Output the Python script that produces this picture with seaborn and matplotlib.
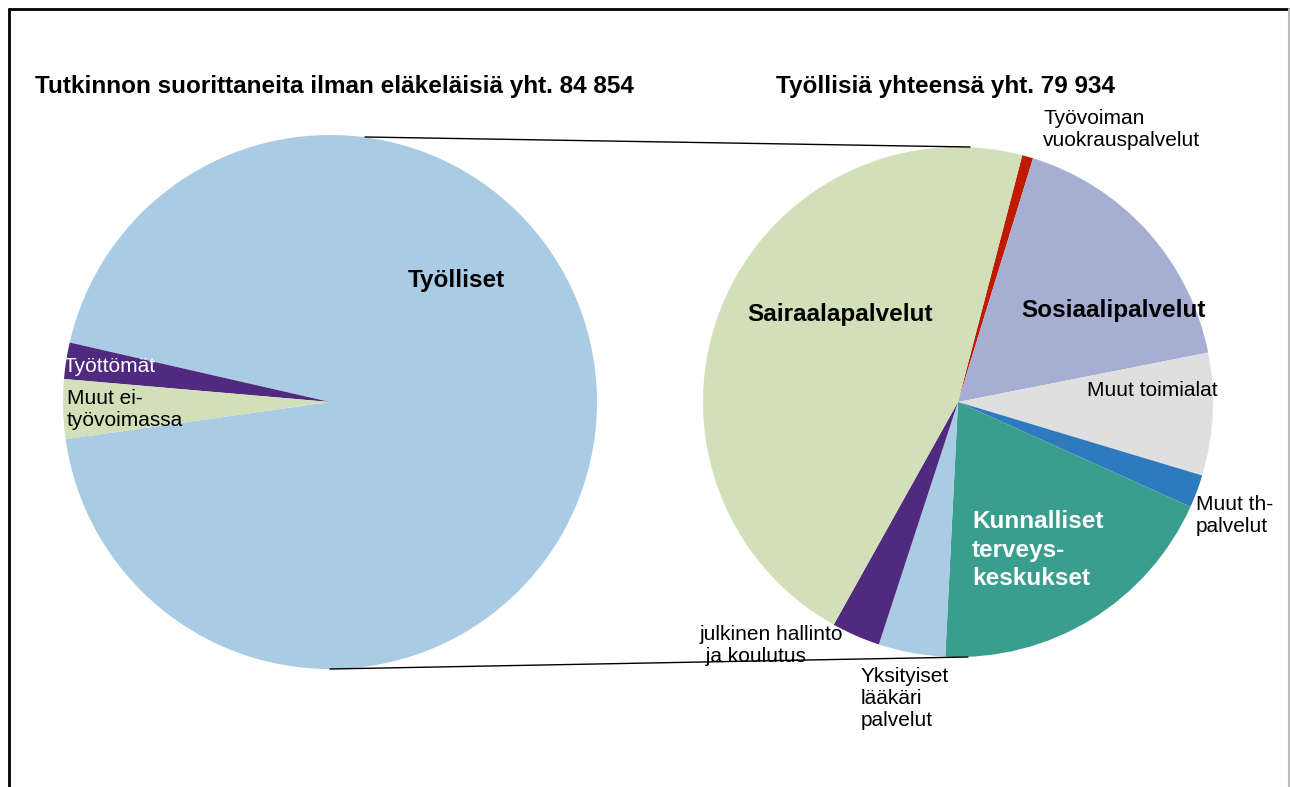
import seaborn as sns
import matplotlib.pyplot as plt

sns.set_theme(style="white")
plt.rcParams['font.family'] = ['Liberation Sans', 'DejaVu Sans']
plt.rcParams['text.color'] = 'black'

# left pie: all graduates (excluding pensioners)
left_labels = ["Työlliset", "Työttömät", "Muut ei-\ntyövoimassa"]
left_values = [79934, 1870, 3050]
left_colors = ["#A9CCE4", "#4F2A7F", "#D2E0B9"]

# right pie: employed by sector
right_labels = ["Työvoiman\nvuokrauspalvelut", "Sosiaalipalvelut", "Muut toimialat", "Muut th-\npalvelut",
                "Kunnalliset\nterveys-\nkeskukset", "Yksityiset\nlääkäri\npalvelut",
                "julkinen hallinto\n ja koulutus", "Sairaalapalvelut"]
right_values = [560, 13700, 6200, 1670, 15230, 3380, 2460, 36734]
right_colors = ["#C01B00", "#A7AED4", "#DFDFDF", "#2F7ABF", "#3A9E8E", "#A9CCE4", "#4F2A7F", "#D2E0B9"]

W, H = 1290, 787

def py(y):
    # pixel row -> data y
    return H - y

fig = plt.figure(figsize=(12.9, 7.87), dpi=100)
ax = fig.add_axes([0, 0, 1, 1])

ax.pie(left_values, colors=left_colors, center=(330, py(402)), radius=267,
       startangle=-172.0, counterclock=True, wedgeprops=dict(linewidth=0))
ax.pie(right_values, colors=right_colors, center=(958, py(402)), radius=255,
       startangle=75.4, counterclock=False, wedgeprops=dict(linewidth=0))

ax.set_xlim(0, W)
ax.set_ylim(0, H)
ax.set_aspect('equal')
ax.axis('off')

# connector lines
ax.plot([365, 970], [py(137), py(147)], color="black", lw=1, zorder=5)
ax.plot([330, 968], [py(669), py(657)], color="black", lw=1, zorder=5)

# titles
ax.text(35, py(87), "Tutkinnon suorittaneita ilman eläkeläisiä yht. 84 854", fontsize=17.5,
        fontweight="bold", ha="left", va="center")
ax.text(776, py(87), "Työllisiä yhteensä yht. 79 934", fontsize=17.5,
        fontweight="bold", ha="left", va="center")

fs = 15
bfs = 17.5
ls = 1.2
# left labels
ax.text(456, py(280), "Työlliset", fontsize=bfs, fontweight="bold", ha="center", va="center")
ax.text(64, py(366), left_labels[1], fontsize=fs, color="white", ha="left", va="center")
ax.text(67, py(409), left_labels[2], fontsize=fs, ha="left", va="center", linespacing=ls)

# right labels
ax.text(1043, py(130), right_labels[0], fontsize=fs, ha="left", va="center", linespacing=ls)
ax.text(1113, py(310), right_labels[1], fontsize=bfs, fontweight="bold", ha="center", va="center")
ax.text(1152, py(391), right_labels[2], fontsize=fs, ha="center", va="center")
ax.text(1196, py(515), right_labels[3], fontsize=fs, ha="left", va="center", linespacing=ls)
ax.text(972, py(550), right_labels[4], fontsize=bfs, fontweight="bold", color="white",
        ha="left", va="center", linespacing=1.28)
ax.text(861, py(698), right_labels[5], fontsize=fs, ha="left", va="center", linespacing=ls)
ax.text(700, py(645), right_labels[6], fontsize=fs, ha="left", va="center", linespacing=ls)
ax.text(840, py(314), right_labels[7], fontsize=bfs, fontweight="bold", ha="center", va="center")

# outer frame
ax.plot([9, W], [py(9), py(9)], color="black", lw=2, clip_on=False, zorder=6)
ax.plot([9, 9], [py(9), 0], color="black", lw=2, clip_on=False, zorder=6)
ax.plot([1289, 1289], [py(9), 0], color="#BBBBBB", lw=1.5, clip_on=False, zorder=6)

fig.savefig("out.png", dpi=100)
